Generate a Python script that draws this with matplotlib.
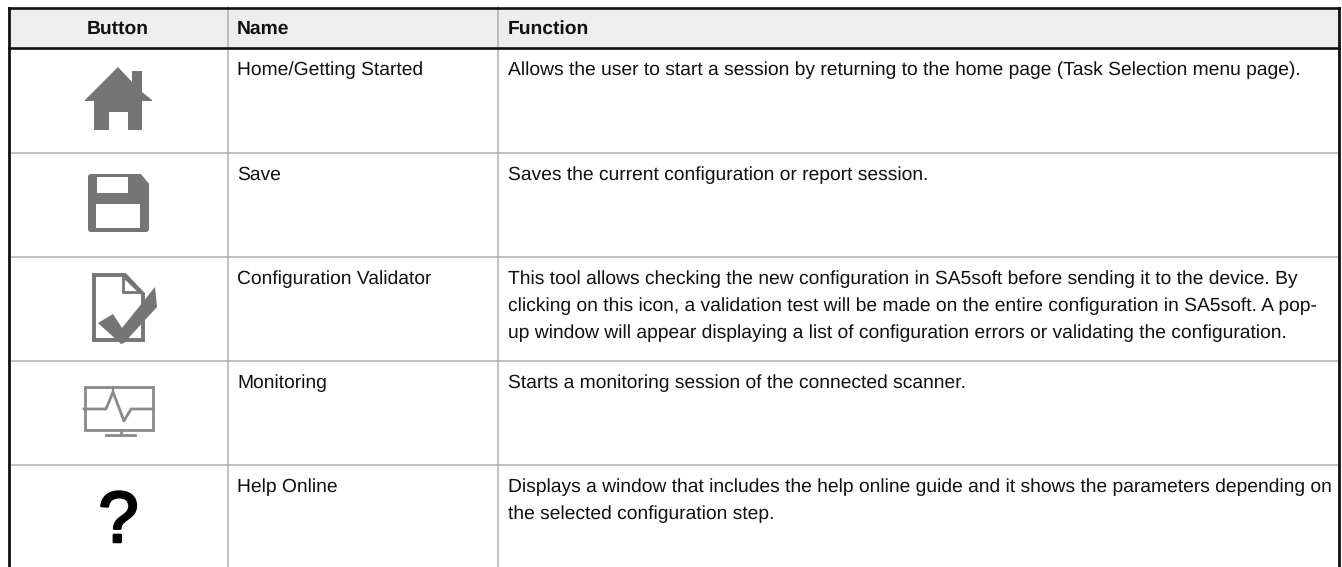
import matplotlib
matplotlib.use("Agg")
import matplotlib.pyplot as plt
import matplotlib.patheffects as pe
from matplotlib.patches import Polygon, Rectangle, FancyBboxPatch

plt.rcParams['font.family'] = ['Liberation Sans', 'DejaVu Sans']
plt.rcParams['text.hinting'] = 'no_hinting'
plt.rcParams['text.hinting_factor'] = 8

headers = ["Button", "Name", "Function"]
names = ["Home/Getting Started", "Save", "Configuration Validator", "Monitoring", "Help Online"]
functions = [
    ["Allows the user to start a session by returning to the home page (Task Selection menu page)."],
    ["Saves the current configuration or report session."],
    ["This tool allows checking the new configuration in SA5soft before sending it to the device. By",
     "clicking on this icon, a validation test will be made on the entire configuration in SA5soft. A pop-",
     "up window will appear displaying a list of configuration errors or validating the configuration."],
    ["Starts a monitoring session of the connected scanner."],
    ["Displays a window that includes the help online guide and it shows the parameters depending on",
     "the selected configuration step."],
]
col_edges = [9, 227.5, 498, 1338.5]
row_edges = [48, 153, 257, 361, 465, 567]
W, H = 1342, 567
GREY = '#757575'
LINE = '#b0b0b0'
INK = '#111111'

fig = plt.figure(figsize=(W / 100, H / 100), dpi=100)
ax = fig.add_axes([0, 0, 1, 1])
ax.set_xlim(0, W)
ax.set_ylim(H, 0)
ax.axis('off')

ax.add_patch(Rectangle((col_edges[0], 8), col_edges[3] - col_edges[0], 40, fc='#eeeeee', ec='none', zorder=0))
for x in col_edges[1:3]:
    ax.plot([x, x], [7, H], color=LINE, lw=1.1, zorder=1)
for y in row_edges[1:5]:
    ax.plot([col_edges[0], col_edges[3]], [y, y], color=LINE, lw=1.1, zorder=1)
ax.plot([col_edges[0], col_edges[3]], [8, 8], color=INK, lw=1.9, zorder=2, solid_capstyle='projecting')
ax.plot([col_edges[0], col_edges[3]], [48, 48], color=INK, lw=1.9, zorder=2)
ax.plot([col_edges[0], col_edges[0]], [8, H], color=INK, lw=2.0, zorder=2)
ax.plot([col_edges[3], col_edges[3]], [8, H], color=INK, lw=2.0, zorder=2)

FS = 13.83
ax.text((col_edges[0] + col_edges[1]) / 2 - 0.5, 33.5, headers[0], ha='center', va='baseline', weight='bold', fontsize=FS, color=INK)
ax.text(col_edges[1] + 9.5, 33.5, headers[1], ha='left', va='baseline', weight='bold', fontsize=FS, color=INK)
ax.text(col_edges[2] + 9.5, 33.5, headers[2], ha='left', va='baseline', weight='bold', fontsize=FS, color=INK)

for i, (n, fn) in enumerate(zip(names, functions)):
    y0 = row_edges[i] + 27.3
    ax.text(col_edges[1] + 9.5, y0, n, ha='left', va='baseline', fontsize=FS, color=INK)
    for j, l in enumerate(fn):
        ax.text(col_edges[2] + 9.5, y0 + j * 26.7, l, ha='left', va='baseline', fontsize=FS, color=INK)

# home icon
ax.add_patch(Polygon([(85, 100), (118, 67), (132, 82), (132, 71), (142, 71), (142, 92), (152, 100), (152, 101),
                      (142, 101), (142, 130), (128, 130), (128, 112), (109, 112), (109, 130), (94, 130), (94, 101), (85, 101)],
                     closed=True, fc=GREY, ec='none'))
# save icon
ax.add_patch(FancyBboxPatch((88, 174), 61, 58, boxstyle='round,pad=0,rounding_size=3', fc=GREY, ec='none'))
ax.add_patch(Polygon([(140, 173), (150, 185), (150, 173)], closed=True, fc='white', ec='none'))
ax.add_patch(Rectangle((97, 177), 31, 16, fc='white', ec='none'))
ax.add_patch(Rectangle((96, 204), 44, 24, fc='white', ec='none'))
# validator icon
ax.add_patch(Polygon([(94, 275), (125, 275), (143, 294), (143, 340), (94, 340)], closed=True, fc='white', ec=GREY, lw=2.8))
ax.add_patch(Polygon([(123, 276), (123, 292), (140, 292)], closed=True, fc='white', ec=GREY, lw=2.0))
ax.add_patch(Polygon([(98, 323), (113, 314), (122, 328), (155, 287), (157, 307), (124, 343), (121, 344)], closed=True, fc=GREY, ec='none'))
# monitor icon
MON = '#8a8a8a'
ax.add_patch(Rectangle((84.5, 387), 68.5, 43, fc='none', ec=MON, lw=2))
ax.plot([84, 106, 113, 124, 131, 153], [409, 409, 392, 421, 409, 409], color=MON, lw=2)
ax.plot([113, 113], [387, 392], color=MON, lw=1.6)
ax.plot([121, 121], [430, 435], color=MON, lw=2)
ax.plot([106, 135], [435, 435], color=MON, lw=2)
# help icon
ax.text(118.5, 542, "?", ha='center', va='baseline', fontsize=52, color='black',
        path_effects=[pe.withStroke(linewidth=1.8, foreground='black')])

fig.savefig('out.png', dpi=100)
